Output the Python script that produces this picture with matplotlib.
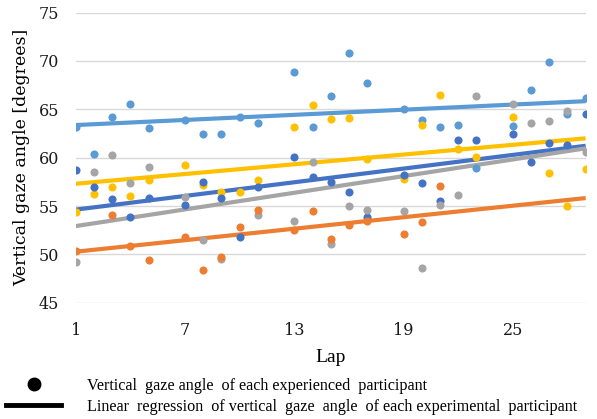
import numpy as np
import matplotlib
matplotlib.use("Agg")
import matplotlib.pyplot as plt
from matplotlib.lines import Line2D

# laps with data (6, 12, 18, 24 are missing for everybody)
laps = [1, 2, 3, 4, 5, 7, 8, 9, 10, 11, 13, 14, 15, 16, 17, 19, 20, 21, 22, 23, 25, 26, 27, 28, 29]

# one list per participant, None where no point is drawn
light_blue = [63.2, 60.4, 64.2, 65.5, 63.1, 63.9, 62.4, 62.4, 64.2, 63.6, 68.9, 63.2, 66.4, 70.8, 67.7,
              65.0, 63.9, 63.2, 63.4, 58.9, 63.3, 67.0, 69.9, 64.5, 66.2]
yellow = [54.35, 56.2, 57.0, 56.0, 57.65, 59.2, 57.2, 56.45, 56.4, 57.7, 63.2, 65.4, 64.0, 64.1, 59.85,
          57.8, 63.4, 66.5, 60.9, 60.1, 64.2, None, 58.4, 55.0, 58.8]
dark_blue = [58.7, 57.0, 55.7, 53.9, 55.8, 55.1, 57.5, 55.8, 51.75, 57.0, 60.1, 58.0, 57.5, 56.5, 53.9,
             58.2, 57.35, 55.5, 61.8, 61.8, 62.4, 59.6, 61.5, 61.3, 64.5]
gray = [49.2, 58.5, 60.3, 57.4, 59.0, 55.9, 51.45, 49.55, None, 54.1, 53.5, 59.55, 51.1, 55.0, 54.55,
        54.5, 48.6, 55.1, 56.1, 66.4, 65.5, 63.6, 63.8, 64.8, 60.6]
orange = [50.3, None, 54.1, 50.9, 49.4, 51.8, 48.4, 49.7, 52.8, 54.6, 52.5, 54.45, 51.6, 53.0, 53.5,
          52.1, 53.3, 57.1, None, None, None, None, None, None, None]

series = [
    (light_blue, "#5B9BD5"),
    (yellow, "#FFC000"),
    (dark_blue, "#4472C4"),
    (gray, "#A5A5A5"),
    (orange, "#ED7D31"),
]

fig = plt.figure(figsize=(5.97, 4.19), dpi=100)
ax = fig.add_axes([0.127, 0.2776, 0.854, 0.6922])

x_all = np.array(laps, dtype=float)
x_line = np.array([1, 29], dtype=float)

for vals, col in series:
    v = np.array([np.nan if a is None else a for a in vals], dtype=float)
    ok = ~np.isnan(v)
    ax.scatter(x_all[ok], v[ok], s=34, color=col, zorder=3, linewidths=0)
    # linear trend line over the whole lap range
    k, b = np.polyfit(x_all[ok], v[ok], 1)
    ax.plot(x_line, k * x_line + b, color=col, lw=3.0, zorder=2, solid_capstyle="butt")

ax.set_xlim(1, 29)
ax.set_ylim(45, 75)
ax.set_xticks([1, 7, 13, 19, 25])
ax.set_yticks(range(45, 80, 5))
ax.grid(axis="y", color="#D9D9D9", lw=1.0, zorder=0)
ax.set_axisbelow(True)
for s in ax.spines.values():
    s.set_visible(False)
ax.tick_params(length=0, labelsize=11.5, labelcolor="#1a1a1a")
ax.tick_params(axis="x", pad=14)
ax.tick_params(axis="y", pad=12)
for lab in ax.get_xticklabels() + ax.get_yticklabels():
    lab.set_family("DejaVu Serif")

ax.set_ylabel("Vertical gaze angle [degrees]", family="DejaVu Serif", fontsize=12.5, labelpad=6)
ax.set_xlabel("Lap", family="Liberation Serif", fontsize=14, labelpad=7)

handles = [
    Line2D([], [], color="black", marker="o", ls="none", markersize=9),
    Line2D([], [], color="black", lw=3.5),
]
labels = [
    "Vertical  gaze angle  of each experienced  participant",
    "Linear  regression  of vertical  gaze  angle  of each experimental  participant",
]
fig.legend(handles, labels, loc="lower left", bbox_to_anchor=(-0.014, -0.024), frameon=False,
           handlelength=3.4, handletextpad=1.6, labelspacing=0.28,
           prop={"family": "Liberation Serif", "size": 11.6})

fig.savefig("out.png", dpi=100)
